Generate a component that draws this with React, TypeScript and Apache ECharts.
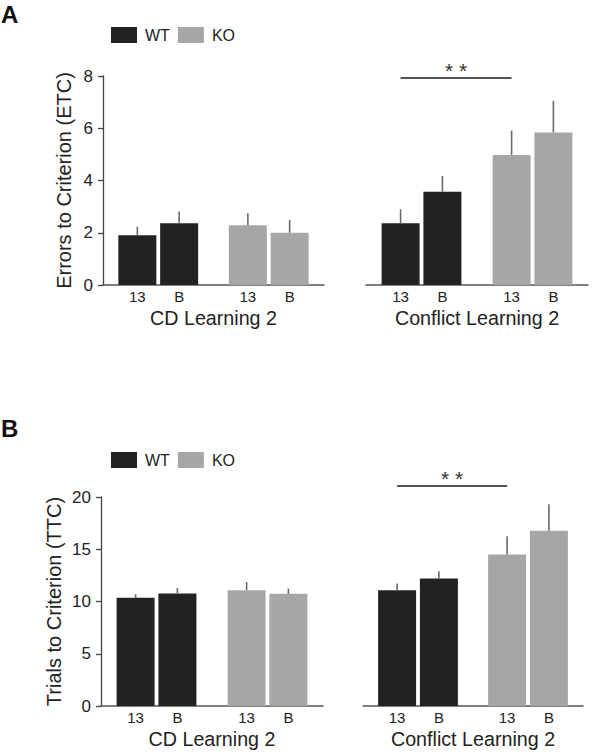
import React, { useEffect, useRef } from "react";
import * as echarts from "echarts";

// Genotype groups on each sub-panel
const genotypes = ["WT", "KO"];
const conditions = ["13", "B"];
const groupLabels = ["CD Learning 2", "Conflict Learning 2"];

// Panel A: Errors to Criterion (ETC), values per genotype [WT, KO]
const etcCd13 = [1.9, 2.29];
const etcCdB = [2.36, 2.0];
const etcConf13 = [2.36, 4.98];
const etcConfB = [3.57, 5.84];
const etcCd13Err = [0.33, 0.46];
const etcCdBErr = [0.45, 0.49];
const etcConf13Err = [0.54, 0.93];
const etcConfBErr = [0.6, 1.21];

// Panel B: Trials to Criterion (TTC)
const ttcCd13 = [10.35, 11.08];
const ttcCdB = [10.76, 10.73];
const ttcConf13 = [11.08, 14.49];
const ttcConfB = [12.2, 16.78];
const ttcCd13Err = [0.35, 0.79];
const ttcCdBErr = [0.54, 0.51];
const ttcConf13Err = [0.64, 1.75];
const ttcConfBErr = [0.7, 2.52];

// Axis ranges
const etcMax = 8;
const etcStep = 2;
const ttcMax = 20;
const ttcStep = 5;
// significance bar heights
const sigA = 7.94;
const sigB = 21.1;

const DARK = "#222222";
const GRAY = "#a6a6a6";
const FONT = "'Liberation Sans', Arial, Helvetica, sans-serif";
const BAR_W = 38;
const BAR_GAP = 0.1;
const PLOT_H = 209;
// headroom factor for the hidden axis of panel B's right plot (room for the significance bar)
const HEAD_B = 1.1;

function barSeries(name: string, values: number[], idx: number, sig?: number) {
  const s: any = {
    type: "bar",
    name,
    xAxisIndex: idx,
    yAxisIndex: idx,
    barWidth: BAR_W,
    barGap: BAR_GAP * 100 + "%",
    clip: false,
    data: values.map((v, i) => ({
      value: v,
      itemStyle: { color: i === 0 ? DARK : GRAY },
    })),
    label: {
      show: true,
      position: "bottom",
      distance: 4,
      formatter: name,
      fontSize: 15,
      color: "#222",
      fontFamily: FONT,
    },
    emphasis: { disabled: true },
  };
  if (sig !== undefined) {
    s.markLine = {
      silent: true,
      symbol: "none",
      animation: false,
      lineStyle: { color: "#555", width: 2, type: "solid" },
      label: {
        show: true,
        position: "middle",
        formatter: "* *",
        fontSize: 21,
        color: "#333",
        fontFamily: FONT,
        distance: -3,
      },
      data: [[{ coord: [0, sig] }, { coord: [1, sig] }]],
    };
  }
  return s;
}

function errSeries(v13: number[], e13: number[], vB: number[], eB: number[], idx: number) {
  const data: number[][] = [];
  v13.forEach((v, i) => data.push([i, v, e13[i], -1]));
  vB.forEach((v, i) => data.push([i, v, eB[i], 1]));
  const off = (BAR_W * (1 + BAR_GAP)) / 2;
  return {
    type: "custom",
    xAxisIndex: idx,
    yAxisIndex: idx,
    z: 5,
    silent: true,
    data,
    renderItem: (params: any, api: any) => {
      const c = api.value(0);
      const m = api.value(1);
      const e = api.value(2);
      const side = api.value(3);
      const p0 = api.coord([c, m]);
      const p1 = api.coord([c, m + e]);
      const x = p0[0] + side * off;
      return {
        type: "line",
        shape: { x1: x, y1: p0[1], x2: x, y2: p1[1] },
        style: { stroke: "#6a6a6a", lineWidth: 1.6 },
      };
    },
  };
}

function xAxis(idx: number, name: string) {
  return {
    type: "category",
    gridIndex: idx,
    data: genotypes,
    axisTick: { show: false },
    axisLabel: { show: false },
    axisLine: { lineStyle: { color: "#555", width: 1.5 } },
    name,
    nameLocation: "middle",
    nameGap: 23,
    nameTextStyle: { fontSize: 19.7, color: "#222", fontFamily: FONT },
  };
}

function yAxis(idx: number, max: number, step: number, show: boolean, name: string, gap: number) {
  return {
    type: "value",
    gridIndex: idx,
    min: 0,
    max,
    interval: step,
    show,
    splitLine: { show: false },
    axisLine: { show: true, lineStyle: { color: "#444", width: 1.3 } },
    axisTick: { show: true, length: 5, lineStyle: { color: "#444", width: 1.3 } },
    axisLabel: { fontSize: 17, color: "#222", margin: 10, fontFamily: FONT },
    name,
    nameLocation: "middle",
    nameGap: gap,
    nameTextStyle: { fontSize: 20, color: "#222", fontFamily: FONT },
  };
}

function legend(top: number) {
  return {
    left: 111,
    top,
    padding: 0,
    data: genotypes,
    icon: "rect",
    itemWidth: 26,
    itemHeight: 16,
    itemGap: 8,
    selectedMode: false,
    textStyle: { fontSize: 16, color: "#222", padding: [0, 0, 0, 3] },
  };
}

export default function App() {
  const ref = useRef<HTMLDivElement>(null);
  useEffect(() => {
    if (!ref.current) return;
    const chart = echarts.init(ref.current, undefined, { renderer: "svg" });
    const hB = PLOT_H * HEAD_B;
    const option: any = {
      animation: false,
      textStyle: { fontFamily: FONT },
      grid: [
        { left: 103, top: 76, width: 221, height: PLOT_H },
        { left: 366, top: 76, width: 222, height: PLOT_H },
        { left: 101, top: 497, width: 222, height: PLOT_H },
        { left: 363, top: 497 + PLOT_H - hB, width: 220, height: hB },
      ],
      legend: [legend(27), legend(452)],
      xAxis: [
        xAxis(0, groupLabels[0]),
        xAxis(1, groupLabels[1]),
        xAxis(2, groupLabels[0]),
        xAxis(3, groupLabels[1]),
      ],
      yAxis: [
        yAxis(0, etcMax, etcStep, true, "Errors to Criterion (ETC)", 29),
        yAxis(1, etcMax, etcStep, false, "", 0),
        yAxis(2, ttcMax, ttcStep, true, "Trials to Criterion (TTC)", 37),
        { type: "value", gridIndex: 3, min: 0, max: ttcMax * HEAD_B, show: false, splitLine: { show: false } },
      ],
      graphic: [
        { type: "text", left: 1, top: 2, style: { text: "A", fontSize: 24, fontWeight: "bold", fill: "#111", fontFamily: FONT } },
        { type: "text", left: 1, top: 416, style: { text: "B", fontSize: 24, fontWeight: "bold", fill: "#111", fontFamily: FONT } },
      ],
      series: [
        { type: "bar", name: "WT", data: [], itemStyle: { color: DARK }, xAxisIndex: 0, yAxisIndex: 0 },
        { type: "bar", name: "KO", data: [], itemStyle: { color: GRAY }, xAxisIndex: 0, yAxisIndex: 0 },
        barSeries(conditions[0], etcCd13, 0),
        barSeries(conditions[1], etcCdB, 0),
        errSeries(etcCd13, etcCd13Err, etcCdB, etcCdBErr, 0),
        barSeries(conditions[0], etcConf13, 1, sigA),
        barSeries(conditions[1], etcConfB, 1),
        errSeries(etcConf13, etcConf13Err, etcConfB, etcConfBErr, 1),
        barSeries(conditions[0], ttcCd13, 2),
        barSeries(conditions[1], ttcCdB, 2),
        errSeries(ttcCd13, ttcCd13Err, ttcCdB, ttcCdBErr, 2),
        barSeries(conditions[0], ttcConf13, 3, sigB),
        barSeries(conditions[1], ttcConfB, 3),
        errSeries(ttcConf13, ttcConf13Err, ttcConfB, ttcConfBErr, 3),
      ],
    };
    chart.setOption(option);
    return () => chart.dispose();
  }, []);
  return (
    <div
      ref={ref}
      style={{ width: 600, height: 753, position: "absolute", left: 0, top: 0, background: "#fff" }}
    />
  );
}
